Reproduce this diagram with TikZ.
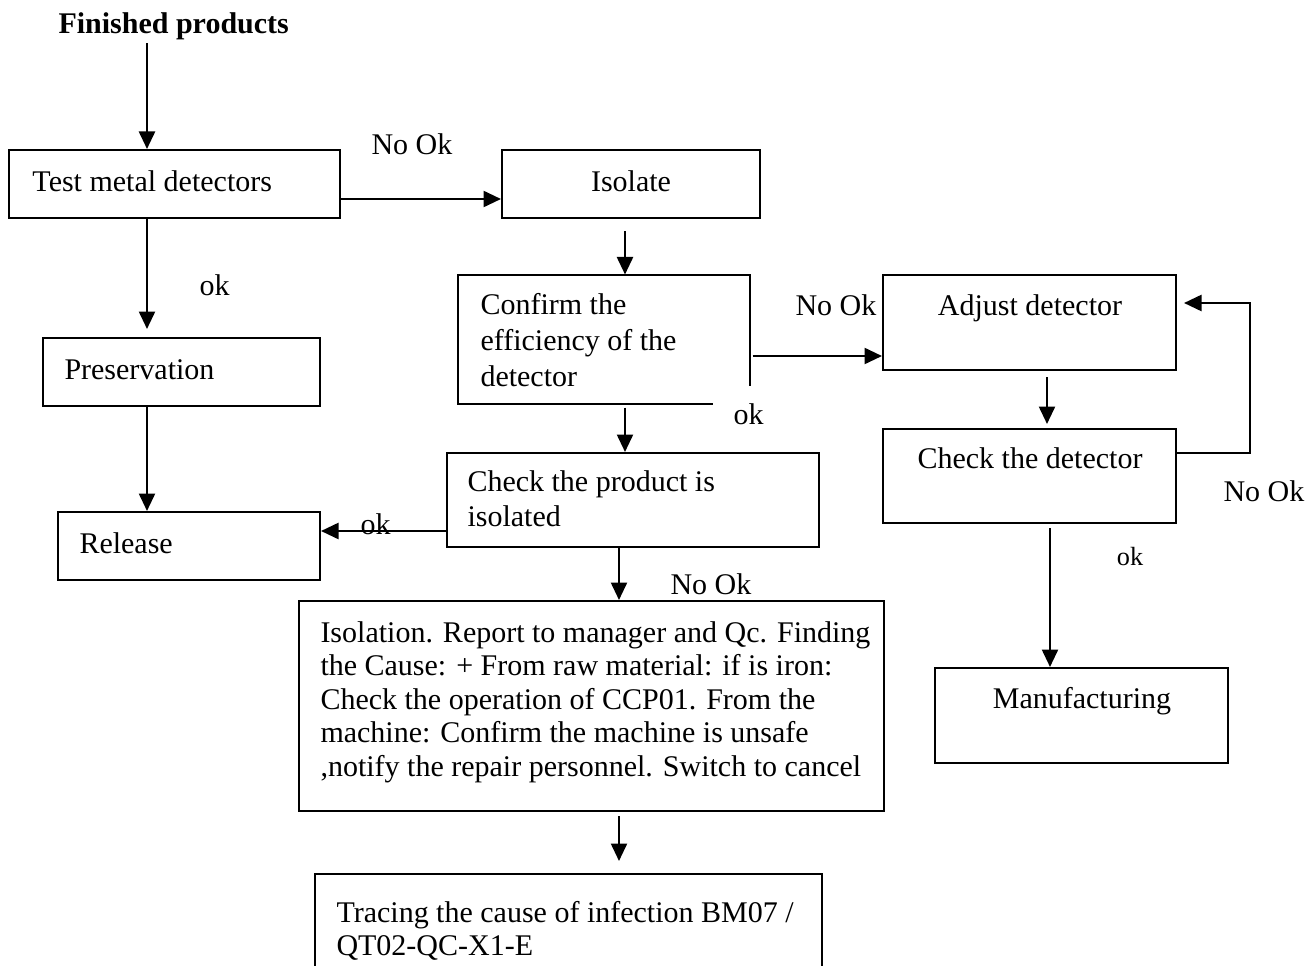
\documentclass[tikz,border=0pt]{standalone}
\usepackage{fontspec}
\setmainfont{Liberation Serif}
\usetikzlibrary{arrows.meta,fit}
\begin{document}
\begin{tikzpicture}[x=0.4pt,y=-0.4pt,
  box/.style={draw, line width=0.8pt, inner sep=0pt},
  frame/.style={inner sep=0pt},
  edge/.style={line width=0.8pt},
  arr/.style={line width=0.95pt, -{Triangle[length=7pt,width=6.4pt]}},
  txt/.style={inner sep=0pt, font=\fontsize{12}{14}\selectfont},
  para/.style={txt, anchor=north west, align=left},
  lbl/.style={txt, anchor=base west},
  small/.style={inner sep=0pt, anchor=base, font=\fontsize{10.5}{12}\selectfont}]
\useasboundingbox (0,0) rectangle (1307,966);
\clip (0,0) rectangle (1307,966);

% boxes
\node[box, fit={(9,150) (340,218)}] (test) {};
\node[box, fit={(502,150) (760,218)}] (isolate) {};
\node[frame, fit={(458,275) (749,403)}] (confirm) {};
\draw[edge] ([xshift=-14.8pt]confirm.south east) -| (confirm.north west)
            -| ([yshift=7.2pt]confirm.south east);
\node[box, fit={(883,275) (1176,370)}] (adjust) {};
\node[box, fit={(883,429) (1176,523)}] (checkdet) {};
\node[box, fit={(935,668) (1228,763)}] (manuf) {};
\node[box, fit={(43,338) (320,406)}] (preserv) {};
\node[box, fit={(58,512) (320,580)}] (release) {};
\node[box, fit={(447,453) (819,547)}] (checkprod) {};
\node[box, fit={(299,601) (884,811)}] (isolation) {};
\node[box, fit={(315,874) (822,1000)}] (tracing) {};

% texts
\node[lbl, font=\fontsize{12}{14}\selectfont\bfseries] (title) at (58,34) {Finished products};
\node[lbl] (testtxt) at (32,192) {Test metal detectors};
\node[txt, anchor=base] (isolatetxt) at (631,192) {Isolate};
\node[para, font=\fontsize{12}{14.4}\selectfont] (confirmtxt) at (480,293) {Confirm the\\efficiency of the\\detector};
\node[txt, anchor=base] (adjusttxt) at (1030,316) {Adjust detector};
\node[txt, anchor=base] (checkdettxt) at (1030,468) {Check the detector};
\node[txt, anchor=base] (manuftxt) at (1082,708) {Manufacturing};
\node[lbl] (preservtxt) at (64,379) {Preservation};
\node[lbl] (releasetxt) at (79,553) {Release};
\node[para] (checkprodtxt) at (467,470) {Check the product is\\isolated};
\node[para, font=\fontsize{12}{13.4}\selectfont] (isolationtxt) at (320,621)
  {Isolation. Report to manager and Qc. Finding\\
   the Cause: + From raw material: if is iron:\\
   Check the operation of CCP01. From the\\
   machine: Confirm the machine is unsafe\\
   ,notify the repair personnel. Switch to cancel};
\node[para, font=\fontsize{12}{13}\selectfont] (tracingtxt) at (336,901) {Tracing the cause of infection BM07 /\\QT02-QC-X1-E};

% lanes of the vertical connectors
\coordinate (laneA) at (147,0);
\coordinate (laneB) at (625,0);
\coordinate (laneC) at (619,0);
\coordinate (laneD) at (1047,0);
\coordinate (laneE) at (1050,0);

% connectors
\draw[arr, shorten <=1pt] (laneA |- title.south) -- (laneA |- test.north);
\draw[arr, shorten >=3.2pt] (laneA |- test.south) -- (laneA |- preserv.north);
\draw[arr, shorten <=-0.8pt] (laneA |- preserv.south) -- (laneA |- release.north);
\draw[arr] ([yshift=-6pt]test.east) -- ([yshift=-6pt]test.east -| isolate.west);
\draw[arr, shorten <=4.8pt] (laneB |- isolate.south) -- (laneB |- confirm.north);
\draw[arr, shorten <=1.6pt] (laneB |- confirm.south) -- (laneB |- checkprod.north);
\draw[arr, shorten <=1.2pt] ([yshift=-6.8pt]confirm.east) -- ([yshift=-6.8pt]confirm.east -| adjust.west);
\draw[arr] ([yshift=-12.4pt]checkprod.west) -- ([yshift=-12.4pt]checkprod.west -| release.east);
\draw[arr] (laneC |- checkprod.south) -- (laneC |- isolation.north);
\draw[arr, shorten <=1.6pt, shorten >=4.8pt] (laneC |- isolation.south) -- (laneC |- tracing.north);
\draw[arr, shorten <=2.4pt, shorten >=1.6pt] (laneD |- adjust.south) -- (laneD |- checkdet.north);
\draw[arr, shorten <=1.6pt] (laneE |- checkdet.south) -- (laneE |- manuf.north);
\draw[arr, shorten >=2.8pt] ([yshift=9.2pt]checkdet.east) -- ++(73,0)
      |- ([yshift=7.8pt]adjust.east);

% connector labels
\node[lbl] (nok1) at (371,155) {No Ok};
\node[lbl] (ok1) at (199,295) {ok};
\node[lbl] (nok2) at (795,315) {No Ok};
\node[lbl] (ok2) at (733,424) {ok};
\node[lbl] (ok3) at (360,534) {ok};
\node[lbl] (nok3) at (670,594) {No Ok};
\node[lbl] (nok4) at (1223,501) {No Ok};
\node[small] (ok4) at (1130,565) {ok};
\end{tikzpicture}
\end{document}
